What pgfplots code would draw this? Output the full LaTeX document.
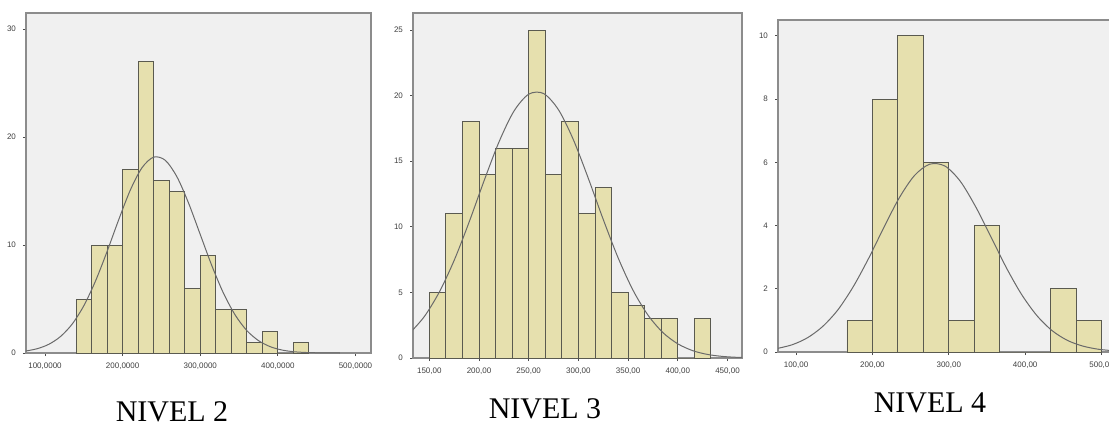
\documentclass[border=0pt]{standalone}
\usepackage{fontspec}
\setmainfont{Liberation Serif}
\newfontfamily\ticksans{Liberation Sans}
\usepackage{pgfplots}
\pgfplotsset{compat=1.18}
\definecolor{plotbg}{HTML}{F0F0F0}
\definecolor{barfill}{HTML}{E6E0AE}
\definecolor{baredge}{HTML}{5A5A50}
\definecolor{curve}{HTML}{6A6A6A}
\definecolor{frame}{HTML}{8C8C8C}

\pgfplotsset{
  spss/.style={
    scale only axis,
    axis background/.style={fill=plotbg},
    axis line style={frame, line width=0.6pt},
    tick style={black!70, line width=0.4pt},
    tick align=outside,
    major tick length=1.5pt,
    xtick pos=lower, ytick pos=left,
    ymin=0,
    tick label style={font=\ticksans\fontsize{4}{4}\selectfont, text=black!75},
    clip=true,
  },
  hist/.style={ybar interval, fill=barfill, draw=baredge, line width=0.45pt},
  normal/.style={curve, line width=0.5pt, smooth, no marks},
}

\begin{document}
\begin{tikzpicture}
\path[use as bounding box] (0,0) rectangle (554.5pt,212pt);

% NIVEL 2
\begin{axis}[spss, at={(13pt,35.5pt)}, anchor=south west,
  width=172.5pt, height=170pt,
  xmin=75.5, xmax=520, ymax=31.5,
  xtick={100,200,300,400,500},
  xticklabels={{100,0000},{200,0000},{300,0000},{400,0000},{500,0000}},
  ytick={0,10,20,30}, yticklabels={0,10,20,30}]
\addplot[hist] coordinates {
  (140,5) (160,10) (180,10) (200,17) (220,27) (240,16) (260,15) (280,6)
  (300,9) (320,4) (340,4) (360,1) (380,2) (400,0) (420,1) (440,1)};
\addplot[normal] coordinates {
  (75,0.18) (90,0.40) (105,0.81) (120,1.53) (135,2.68) (150,4.38) (165,6.66)
  (180,9.41) (195,12.36) (210,15.11) (225,17.17) (240,18.15) (255,17.85)
  (270,16.32) (285,13.88) (300,10.98) (315,8.08) (330,5.53) (345,3.52)
  (360,2.08) (375,1.15) (390,0.59) (405,0.28) (420,0.12) (435,0.05)
  (450,0.02) (465,0.01) (480,0)};
\end{axis}

% NIVEL 3
\begin{axis}[spss, at={(206.5pt,33pt)}, anchor=south west,
  width=164.5pt, height=172.5pt,
  xmin=133.6, xmax=464.6, ymax=26.3,
  xtick={150,200,250,300,350,400,450},
  xticklabels={{150,00},{200,00},{250,00},{300,00},{350,00},{400,00},{450,00}},
  ytick={0,5,10,15,20,25}, yticklabels={0,5,10,15,20,25}]
\addplot[hist] coordinates {
  (150,5) (166.67,11) (183.33,18) (200,14) (216.67,16) (233.33,16)
  (250,25) (266.67,14) (283.33,18) (300,11) (316.67,13) (333.33,5)
  (350,4) (366.67,3) (383.33,3) (400,0) (416.67,3) (433.33,3)};
\addplot[normal] coordinates {
  (130,1.87) (145,3.16) (160,5.02) (175,7.44) (190,10.35) (205,13.49)
  (220,16.45) (235,18.80) (250,20.11) (265,20.16) (280,18.92) (295,16.63)
  (310,13.69) (325,10.56) (340,7.63) (355,5.16) (370,3.27) (385,1.94)
  (400,1.08) (415,0.56) (430,0.27) (445,0.12) (460,0.05) (475,0.02)};
\end{axis}

% NIVEL 4
\begin{axis}[spss, at={(389pt,36pt)}, anchor=south west,
  width=166pt, height=166pt,
  xmin=76.4, xmax=511, ymax=10.5,
  xtick={100,200,300,400,500},
  xticklabels={{100,00},{200,00},{300,00},{400,00},{500,00}},
  ytick={0,2,4,6,8,10}, yticklabels={0,2,4,6,8,10}]
\addplot[hist] coordinates {
  (166.67,1) (200,8) (233.33,10) (266.67,6) (300,1) (333.33,4)
  (366.67,0) (400,0) (433.33,2) (466.67,1) (500,1)};
\addplot[normal] coordinates {
  (75,0.11) (95,0.23) (115,0.45) (135,0.81) (155,1.34) (175,2.07)
  (195,2.96) (215,3.94) (235,4.87) (255,5.58) (275,5.94) (295,5.88)
  (315,5.40) (335,4.60) (355,3.65) (375,2.68) (395,1.83) (415,1.16)
  (435,0.68) (455,0.37) (475,0.19) (495,0.09) (515,0.04)};
\end{axis}

\node[anchor=base, font=\fontsize{15}{15}\selectfont] at (86pt,1.5pt) {NIVEL 2};
\node[anchor=base, font=\fontsize{15}{15}\selectfont] at (272.5pt,3pt) {NIVEL 3};
\node[anchor=base, font=\fontsize{15}{15}\selectfont] at (465pt,6pt) {NIVEL 4};
\end{tikzpicture}
\end{document}
